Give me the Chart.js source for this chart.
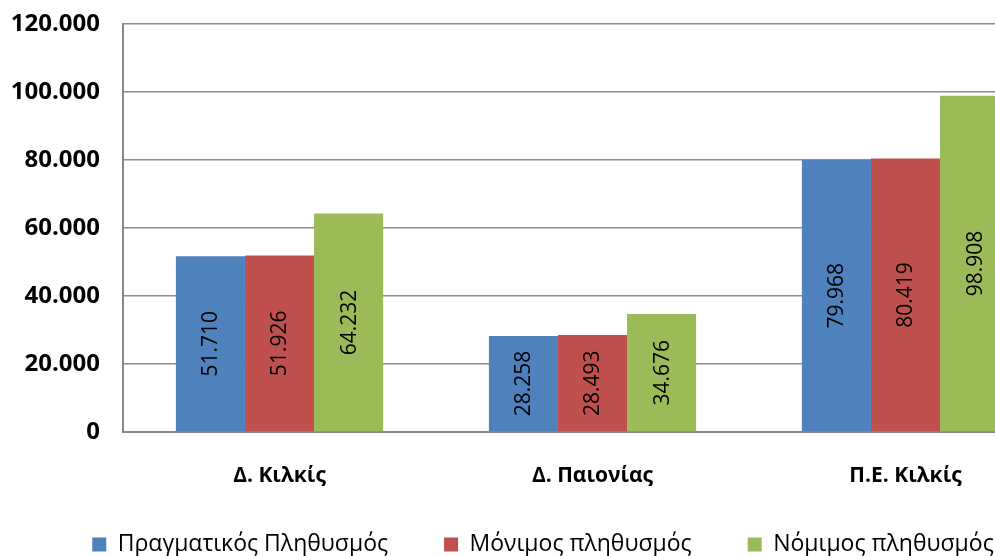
<!DOCTYPE html>
<html>
<head>
<meta charset="utf-8">
<script src="https://cdn.jsdelivr.net/npm/chart.js@4"></script>
<style>
html,body{margin:0;padding:0;background:#fff;overflow:hidden;width:995px;height:556px;}
#c{display:block;}
</style>
</head>
<body>
<canvas id="c" width="1080" height="580"></canvas>
<script>
const categories = ['Δ. Κιλκίς', 'Δ. Παιονίας', 'Π.Ε. Κιλκίς'];
const seriesNames = ['Πραγματικός Πληθυσμός', 'Μόνιμος πληθυσμός', 'Νόμιμος πληθυσμός'];
const pragmatikos = [51710, 28258, 79968];
const monimos = [51926, 28493, 80419];
const nomimos = [64232, 34676, 98908];
const yTicks = [0, 20000, 40000, 60000, 80000, 100000, 120000];

function fmt(v){
  return String(Math.round(v)).replace(/\B(?=(\d{3})+(?!\d))/g, '.');
}

const barLabels = {
  id: 'barLabels',
  afterDatasetsDraw(chart){
    const ctx = chart.ctx;
    ctx.save();
    ctx.font = '21px "Open Sans"';
    ctx.fillStyle = '#000';
    ctx.textAlign = 'center';
    ctx.textBaseline = 'middle';
    chart.data.datasets.forEach((ds, di) => {
      const meta = chart.getDatasetMeta(di);
      meta.data.forEach((el, i) => {
        const cx = el.x;
        const cy = (el.y + el.base) / 2;
        ctx.save();
        ctx.translate(cx, cy);
        ctx.rotate(-Math.PI / 2);
        ctx.fillText(fmt(ds.data[i]), 0, 1);
        ctx.restore();
      });
    });
    ctx.restore();
  }
};

// nudge the legend row closer to the axis labels and slightly right
const legendShift = {
  id: 'legendShift',
  beforeDraw(chart){
    const lg = chart.legend;
    if (lg && !lg._shifted) {
      lg.top -= 14; lg.bottom -= 14;
      lg.left += 12; lg.right += 12;
      lg._shifted = true;
    }
  }
};

new Chart(document.getElementById('c'), {
  type: 'bar',
  data: {
    labels: categories,
    datasets: [
      {label: seriesNames[0], data: pragmatikos, backgroundColor: '#4F81BD'},
      {label: seriesNames[1], data: monimos, backgroundColor: '#C0504D'},
      {label: seriesNames[2], data: nomimos, backgroundColor: '#9BBB59'}
    ]
  },
  options: {
    responsive: false,
    animation: false,
    devicePixelRatio: 1,
    layout: {padding: {left: 0, top: 0, right: 18, bottom: 0}},
    datasets: {bar: {barPercentage: 1, categoryPercentage: 0.662, borderWidth: 0}},
    scales: {
      x: {
        grid: {display: false, drawTicks: false},
        border: {display: true, color: '#888', width: 2},
        ticks: {color: '#000', padding: 31, font: {family: '"Open Sans"', size: 21, weight: 'bold'}},
        afterFit(scale){ scale.height = 59; }
      },
      y: {
        min: 0, max: 120000,
        afterBuildTicks(scale){ scale.ticks = yTicks.map(v => ({value: v})); },
        grid: {color: '#8c8c8c', lineWidth: 1.5, drawTicks: false},
        border: {display: true, color: '#888', width: 2},
        ticks: {color: '#000', padding: 23, callback: v => fmt(v), font: {family: '"Open Sans"', size: 24, weight: 'bold'}},
        afterFit(scale){ scale.width = 123; scale.paddingTop = 24; scale.paddingBottom = 0; }
      }
    },
    plugins: {
      tooltip: {enabled: false},
      legend: {
        position: 'bottom',
        labels: {boxWidth: 14, boxHeight: 14, padding: 56, color: '#000', font: {family: '"Open Sans"', size: 23}}
      }
    }
  },
  plugins: [barLabels, legendShift]
});
</script>
</body>
</html>
